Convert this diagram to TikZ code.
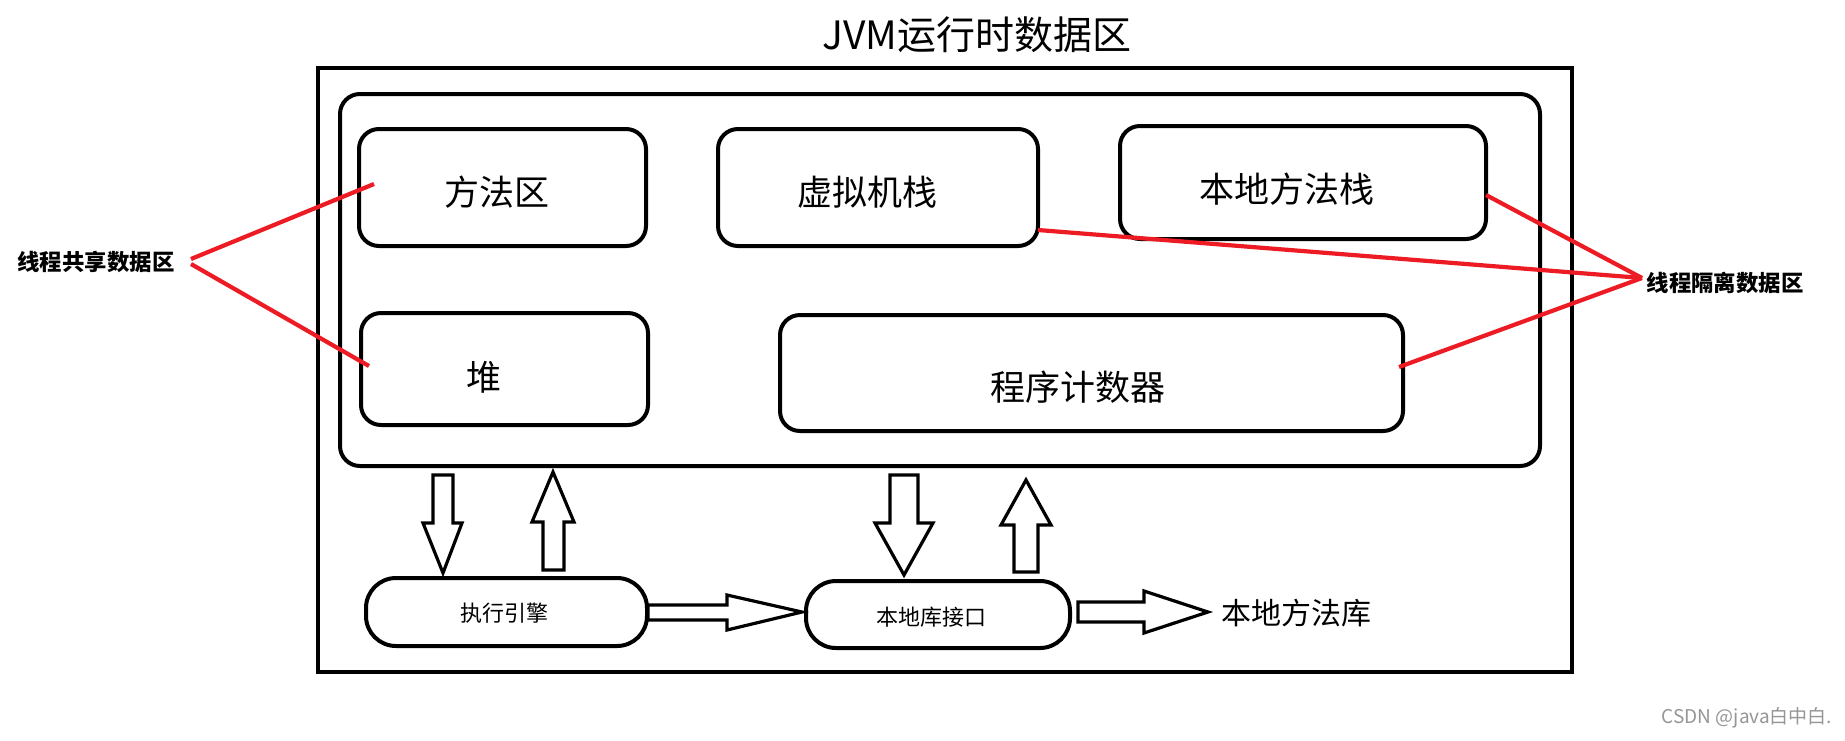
\documentclass[tikz,border=0pt]{standalone}
\usepackage{fontspec}
\setmainfont{Noto Sans CJK SC}
\definecolor{pred}{RGB}{237,28,36}
\definecolor{wm}{RGB}{150,150,150}
\begin{document}
\begin{tikzpicture}[x=0.5pt,y=-0.5pt,
  frame/.style={draw, line width=2pt, inner sep=0pt},
  box/.style={draw, line width=2pt, rounded corners=10pt, inner sep=0pt},
  bigtxt/.style={font=\fontsize{17.5pt}{20pt}\selectfont, inner sep=0pt},
  smalltxt/.style={font=\fontsize{11pt}{13pt}\selectfont, inner sep=0pt},
  sidetxt/.style={font=\bfseries\fontsize{11.2pt}{13pt}\selectfont, inner sep=0pt},
  redline/.style={draw=pred, line width=2.1pt},
  blockarrow/.style={draw, fill=white, line width=1.6pt, line join=miter}]
\useasboundingbox (0,0) rectangle (1845,740);
\fill[white] (0,0) rectangle (1845,740);

% title
\node[font=\fontsize{19.5pt}{22pt}\selectfont, inner sep=0pt] (title) at (977,35) {JVM运行时数据区};

% frames
\node[frame, minimum width=627pt, minimum height=302pt] (outer) at (945,370) {};
\node[box, rounded corners=10pt, minimum width=600pt, minimum height=186pt] (inner) at (940,280) {};

% memory areas
\node[box, minimum width=143.5pt, minimum height=58.5pt] (ff) at (502.5,187.5) {};
\node[box, minimum width=160pt, minimum height=58.5pt] (xnj) at (878,187.5) {};
\node[box, minimum width=183pt, minimum height=56.5pt] (bdff) at (1303,182.5) {};
\node[box, minimum width=143.5pt, minimum height=56pt] (dui) at (504.5,369) {};
\node[box, minimum width=311.5pt, minimum height=58pt] (pc) at (1091.5,373) {};

\node[bigtxt] (tff) at (497,192) {方法区};
\node[bigtxt] (txnj) at (867,192) {虚拟机栈};
\node[bigtxt] (tbdff) at (1287,189) {本地方法栈};
\node[bigtxt] (tdui) at (484,377) {堆};
\node[bigtxt] (tpc) at (1078,387) {程序计数器};

% engine and native interface
\node[box, rounded corners=15pt, minimum width=140.5pt, minimum height=34pt] (ee) at (506.5,612) {};
\node[box, rounded corners=15pt, minimum width=132pt, minimum height=33.5pt] (ni) at (938,614.5) {};
\node[smalltxt] (tee) at (504,613) {执行引擎};
\node[smalltxt] (tni) at (931,617) {本地库接口};
\node[font=\fontsize{15pt}{17pt}\selectfont, inner sep=0pt] (lib) at (1296,613) {本地方法库};

% block arrows
\draw[blockarrow] (433,475) -- (453,475) -- (453,523) -- (462,523) -- (443,573) -- (423,523) -- (433,523) -- cycle;
\draw[blockarrow] (543,570) -- (564,570) -- (564,522) -- (574,522) -- (553,472) -- (532,522) -- (543,522) -- cycle;
\draw[blockarrow] (890,475) -- (918,475) -- (918,523) -- (933,523) -- (904,575) -- (875,523) -- (890,523) -- cycle;
\draw[blockarrow] (1014,572) -- (1038,572) -- (1038,525) -- (1051,525) -- (1026,480) -- (1001,525) -- (1014,525) -- cycle;
\draw[blockarrow] (648,605) -- (727,605) -- (727,595) -- (802,612) -- (727,630) -- (727,620) -- (648,620) -- cycle;
\draw[blockarrow] (1078,602) -- (1144,602) -- (1144,591) -- (1208,612) -- (1144,633) -- (1144,622) -- (1078,622) -- cycle;

% side labels
\node[sidetxt] (share) at (96,262) {线程共享数据区};
\node[sidetxt] (iso) at (1725,283) {线程隔离数据区};
\coordinate (sa1) at (191,259);
\coordinate (sa2) at (191,264);
\coordinate (ia) at (1642,278);
\coordinate (eff) at (374,184);
\coordinate (edui) at (369,366);
\coordinate (exnj) at (1038,230);
\coordinate (ebdff) at (1486,195);
\coordinate (epc) at (1399,367);
\draw[redline] (sa1) -- (eff);
\draw[redline] (sa2) -- (edui);
\draw[redline] (ia) -- (ebdff);
\draw[redline] (ia) -- (exnj);
\draw[redline] (ia) -- (epc);

% watermark
\node[text=wm, font=\fontsize{9.5pt}{11pt}\selectfont, inner sep=0pt] (wmk) at (1747,718) {CSDN @java白中白.};
\end{tikzpicture}
\end{document}
